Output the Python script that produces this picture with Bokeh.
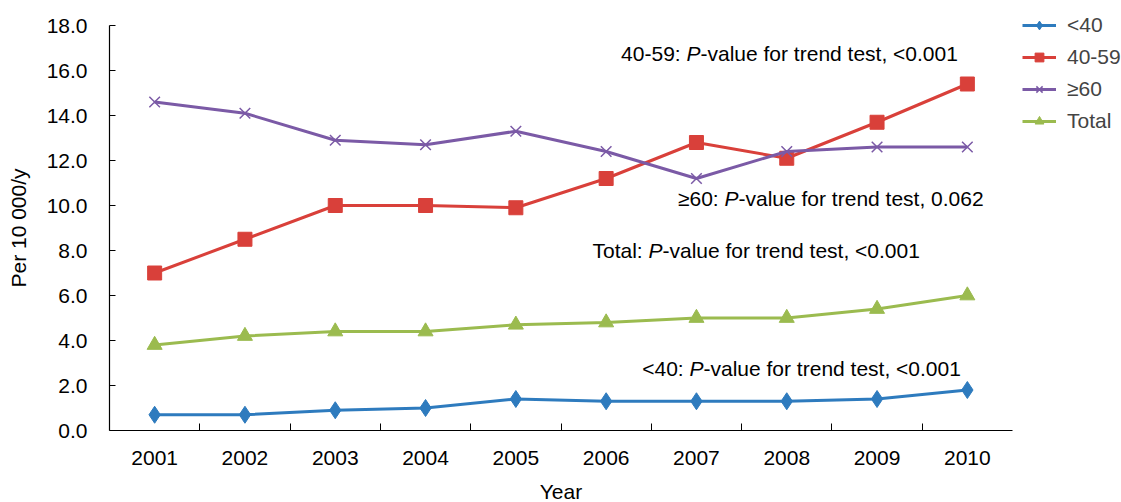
from bokeh.plotting import figure
from bokeh.models import FixedTicker, Legend, LegendItem, Label, Range1d
from bokeh.embed import file_html
from bokeh.resources import INLINE

years = ["2001", "2002", "2003", "2004", "2005", "2006", "2007", "2008", "2009", "2010"]
under40 = [0.7, 0.7, 0.9, 1.0, 1.4, 1.3, 1.3, 1.3, 1.4, 1.8]
age40_59 = [7.0, 8.5, 10.0, 10.0, 9.9, 11.2, 12.8, 12.1, 13.7, 15.4]
age60plus = [14.6, 14.1, 12.9, 12.7, 13.3, 12.4, 11.2, 12.4, 12.6, 12.6]
total = [3.8, 4.2, 4.4, 4.4, 4.7, 4.8, 5.0, 5.0, 5.4, 6.0]
y_ticks = [0, 2, 4, 6, 8, 10, 12, 14, 16, 18]

xs = list(range(1, len(years) + 1))
FONT = "Liberation Sans"
FS = "21px"

p = figure(frame_width=903, frame_height=405, output_backend="svg", toolbar_location=None,
           x_range=Range1d(0.5, 10.5), y_range=Range1d(0, 18),
           min_border_left=109, min_border_right=109, min_border_top=25, min_border_bottom=72)
p.grid.visible = False
p.outline_line_color = None

p.xaxis.ticker = FixedTicker(ticks=xs, minor_ticks=[x + 0.5 for x in xs[:-1]])
p.xaxis.major_label_overrides = {x: y for x, y in zip(xs, years)}
p.xaxis.major_tick_in = 0
p.xaxis.major_tick_out = 0
p.xaxis.minor_tick_in = 7
p.xaxis.minor_tick_out = 0
p.xaxis.major_label_standoff = 20
p.xaxis.axis_label = "Year"
p.xaxis.axis_label_standoff = 12

p.yaxis.ticker = FixedTicker(ticks=y_ticks)
p.yaxis.major_label_overrides = {t: f"{t:.1f}" for t in y_ticks}
p.yaxis.major_tick_in = 6
p.yaxis.major_tick_out = 0
p.yaxis.minor_tick_in = 0
p.yaxis.minor_tick_out = 0
p.yaxis.major_label_standoff = 22
p.yaxis.axis_label = "Per 10 000/y"
p.yaxis.axis_label_standoff = 14

for ax in (p.xaxis, p.yaxis):
    ax.axis_line_color = "#000000"
    ax.axis_line_width = 1.2
    ax.major_tick_line_color = "#000000"
    ax.minor_tick_line_color = "#000000"
    ax.major_label_text_font = FONT
    ax.major_label_text_font_size = FS
    ax.major_label_text_color = "#000000"
    ax.axis_label_text_font = FONT
    ax.axis_label_text_font_size = FS
    ax.axis_label_text_font_style = "normal"
    ax.axis_label_text_color = "#000000"

c_blue, c_red, c_purple, c_green = "#2E7BBE", "#D9403A", "#7B5AA6", "#9BBB4F"

items = []
l1 = p.line(xs, under40, line_color=c_blue, line_width=3)
m1 = p.scatter(xs, under40, marker="diamond", size=17, fill_color=c_blue, line_color=c_blue)
items.append(LegendItem(label="<40", renderers=[l1, m1]))
l2 = p.line(xs, age40_59, line_color=c_red, line_width=3)
m2 = p.scatter(xs, age40_59, marker="square", size=14, fill_color=c_red, line_color=c_red)
items.append(LegendItem(label="40-59", renderers=[l2, m2]))
l3 = p.line(xs, age60plus, line_color=c_purple, line_width=3)
m3 = p.scatter(xs, age60plus, marker="x", size=15, line_color=c_purple, line_width=1.5)
items.append(LegendItem(label="\u226560", renderers=[l3, m3]))
l4 = p.line(xs, total, line_color=c_green, line_width=3)
m4 = p.scatter(xs, total, marker="triangle", size=15, fill_color=c_green, line_color=c_green)
items.append(LegendItem(label="Total", renderers=[l4, m4]))

legend = Legend(items=items, location=(10, 297), border_line_color=None,
                background_fill_alpha=0, label_text_font=FONT, label_text_font_size=FS,
                glyph_width=34, glyph_height=22, spacing=8, label_standoff=11,
                padding=0, margin=0)
p.add_layout(legend, "right")

# annotations: (prefix, suffix, pixel x of italic P, pixel y center)
annots = [
    ("40-59: ", "-value for trend test, <0.001", 686, 53),
    ("\u226560: ", "-value for trend test, 0.062", 724, 198),
    ("Total: ", "-value for trend test, <0.001", 648, 250),
    ("<40: ", "-value for trend test, <0.001", 689, 368),
]
FL, FB = 109, 430
P_W = 14
for pre, suf, px, py in annots:
    sx = px - FL
    sy = FB - py
    kw = dict(x_units="screen", y_units="screen", y=sy, text_font=FONT, text_font_size=FS,
              text_baseline="middle", text_color="#000000")
    p.add_layout(Label(x=sx, text=pre, text_align="right", **kw))
    p.add_layout(Label(x=sx, text="P", text_align="left", text_font_style="italic", **kw))
    p.add_layout(Label(x=sx + P_W, text=suf, text_align="left", **kw))

open("out.html", "w").write(file_html(p, INLINE))
